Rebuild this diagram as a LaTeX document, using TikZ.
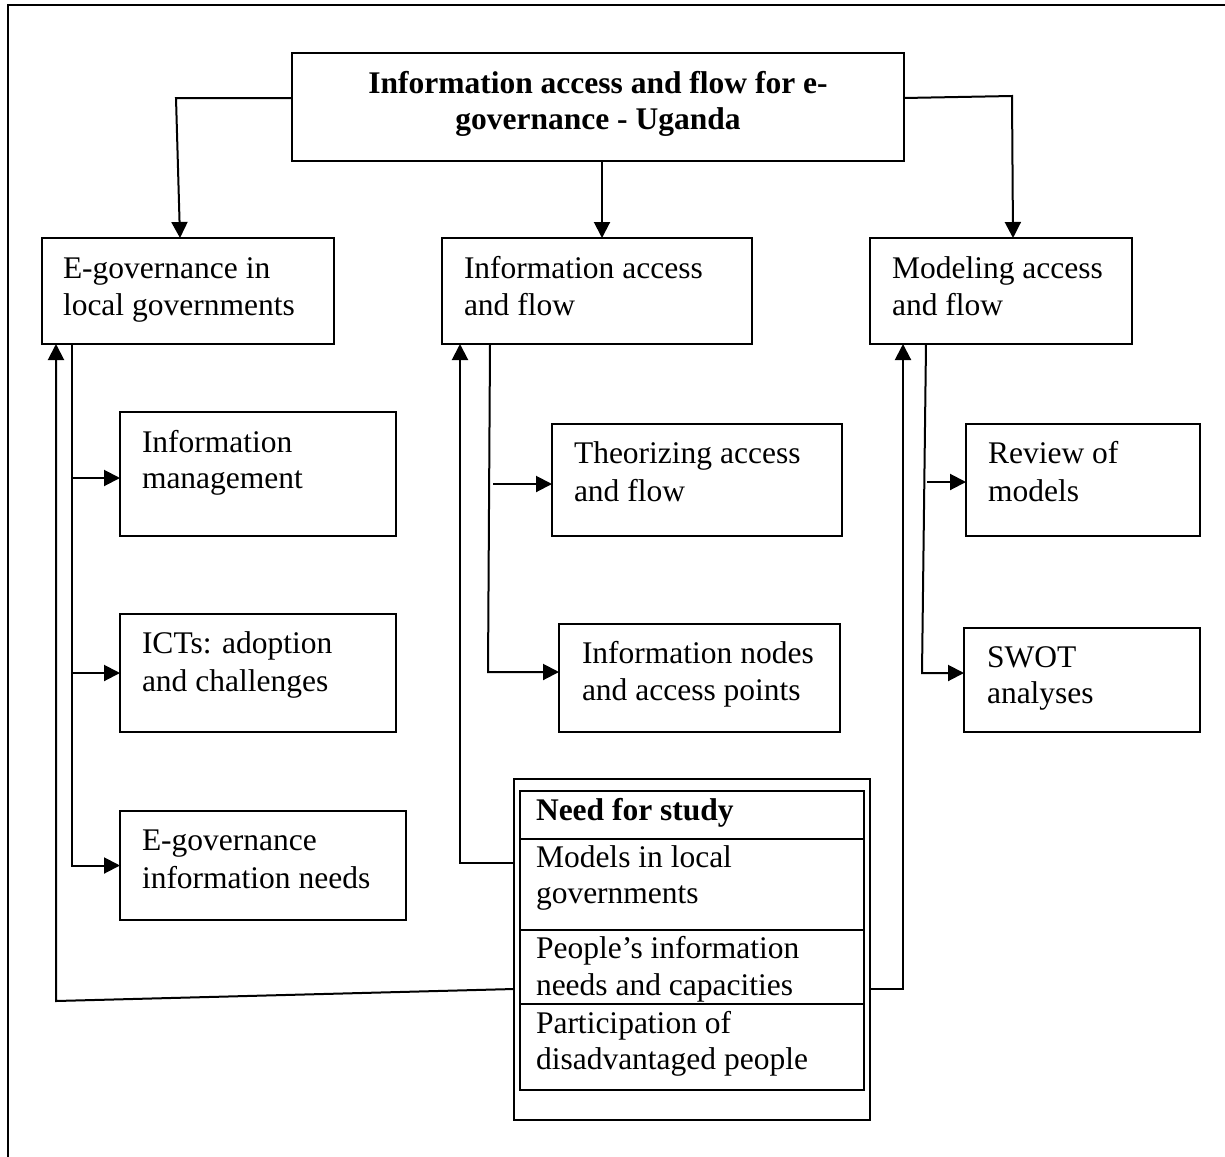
\documentclass[tikz,border=0pt]{standalone}
\usepackage{fontspec}
\setmainfont{Liberation Serif}
\usetikzlibrary{arrows.meta,calc}

\begin{document}
\begin{tikzpicture}[x=1pt,y=-1pt,
  line width=2pt,
  box/.style={draw, line width=2pt, inner sep=0pt, outer sep=0pt, anchor=north west},
  tx/.style={anchor=base west, inner sep=0pt, font=\fontsize{31.5}{37}\selectfont},
  ttl/.style={anchor=base, inner sep=0pt, font=\fontsize{31.5}{37}\selectfont\bfseries},
  arr/.style={-{Triangle[length=16pt,width=16pt]}, line width=2pt}]

\useasboundingbox (0,0) rectangle (1225,1156);

% page frame
\draw[line width=2.5pt] (8,1160) -- (8,5) -- (1230,5);

% title
\node[box, minimum width=612pt, minimum height=108pt] (title) at (292,53) {};
\node[ttl] (titleA) at (598,93) {Information access and flow for e-};
\node[ttl] (titleB) at (598,129) {governance - Uganda};

% three main themes
\node[box, minimum width=292pt, minimum height=106pt] (egov) at (42,238) {};
\node[tx] (egovA) at (62,278) {E-governance in};
\node[tx] (egovB) at (62,315) {local governments};

\node[box, minimum width=310pt, minimum height=106pt] (infoacc) at (442,238) {};
\node[tx] (infoaccA) at (463,278) {Information access};
\node[tx] (infoaccB) at (463,315) {and flow};

\node[box, minimum width=262pt, minimum height=106pt] (model) at (870,238) {};
\node[tx] (modelA) at (891,278) {Modeling access};
\node[tx] (modelB) at (891,315) {and flow};

% sub-topics, left column
\node[box, minimum width=276pt, minimum height=124pt] (infomgmt) at (120,412) {};
\node[tx] (infomgmtA) at (141,452) {Information};
\node[tx] (infomgmtB) at (141,488) {management};

\node[box, minimum width=276pt, minimum height=118pt] (icts) at (120,614) {};
\node[tx] (ictsA) at (141,653) {ICTs: adoption};
\node[tx] (ictsB) at (141,691) {and challenges};

\node[box, minimum width=286pt, minimum height=109pt] (egovneeds) at (120,811) {};
\node[tx] (egovneedsA) at (141,850) {E-governance};
\node[tx] (egovneedsB) at (141,888) {information needs};

% sub-topics, middle column
\node[box, minimum width=290pt, minimum height=112pt] (theor) at (552,424) {};
\node[tx] (theorA) at (573,463) {Theorizing access};
\node[tx] (theorB) at (573,501) {and flow};

\node[box, minimum width=281pt, minimum height=108pt] (inodes) at (559,624) {};
\node[tx] (inodesA) at (581,663) {Information nodes};
\node[tx] (inodesB) at (581,700) {and access points};

% sub-topics, right column
\node[box, minimum width=234pt, minimum height=112pt] (review) at (966,424) {};
\node[tx] (reviewA) at (987,463) {Review of};
\node[tx] (reviewB) at (987,501) {models};

\node[box, minimum width=236pt, minimum height=104pt] (swot) at (964,628) {};
\node[tx] (swotA) at (986,667) {SWOT};
\node[tx] (swotB) at (986,703) {analyses};

% need for study table
\node[box, minimum width=356pt, minimum height=341pt] (needO) at (514,779) {};
\node[box, minimum width=344pt, minimum height=48pt] (rowA) at (520,791) {};
\node[box, minimum width=344pt, minimum height=91pt] (rowB) at (520,839) {};
\node[box, minimum width=344pt, minimum height=74pt] (rowC) at (520,930) {};
\node[box, minimum width=344pt, minimum height=86pt] (rowD) at (520,1004) {};
\node[tx, font=\fontsize{31.5}{37}\selectfont\bfseries] (rowAt) at (535,820) {Need for study};
\node[tx] (rowBa) at (535,867) {Models in local};
\node[tx] (rowBb) at (535,903) {governments};
\node[tx] (rowCa) at (535,958) {People’s information};
\node[tx] (rowCb) at (535,995) {needs and capacities};
\node[tx] (rowDa) at (535,1033) {Participation of};
\node[tx] (rowDb) at (535,1069) {disadvantaged people};

% guide coordinates for bends
\coordinate (bendTL) at (176,98);
\coordinate (tipTL) at (180,238);
\coordinate (bendTR) at (1012,96);
\coordinate (tipTR) at (1013,238);
\coordinate (midX) at (602,0);
\coordinate (spL) at (72,0);
\coordinate (spM) at (490,0);
\coordinate (spRtop) at (926,344);
\coordinate (spRbot) at (922,673);
\coordinate (fbL) at (56,1001);
\coordinate (fbM) at (460,863);
\coordinate (fbR) at (903,989);

% title to themes
\draw[arr] ($(title.west)+(0,-9)$) -- (bendTL) -- (tipTL);
\draw[arr] (title.south -| midX) -- (infoacc.north -| midX);
\draw[arr] ($(title.east)+(0,-9)$) -- (bendTR) -- (tipTR);

% left column branches
\draw[arr] (egov.south -| spL) -- (spL |- egovneeds.west) -- (egovneeds.west);
\draw[arr] ($(spL |- infomgmt.west)+(0,4)$) -- ($(infomgmt.west)+(0,4)$);
\draw[arr] (spL |- icts.west) -- (icts.west);

% middle column branches
\draw[arr] (infoacc.south -| spM) -- ($(spM |- inodes.north west)+(-2,48)$) -- ($(inodes.north west)+(0,48)$);
\draw[arr] ($(spM |- theor.north west)+(3,60)$) -- ($(theor.north west)+(0,60)$);

% right column branches
\draw[arr] (spRtop) -- (spRbot) -- ($(swot.north west)+(0,45)$);
\draw[arr] ($(spRtop |- review.north west)+(1,58)$) -- ($(review.north west)+(0,58)$);

% need for study feeding back to the themes
\draw[arr] ($(needO.north west)+(0,210)$) -- (fbL) -- (egov.south -| fbL);
\draw[arr] ($(needO.north west)+(0,84)$) -- (fbM) -- (infoacc.south -| fbM);
\draw[arr] ($(needO.north east)+(0,210)$) -- (fbR) -- (model.south -| fbR);

\end{tikzpicture}
\end{document}
